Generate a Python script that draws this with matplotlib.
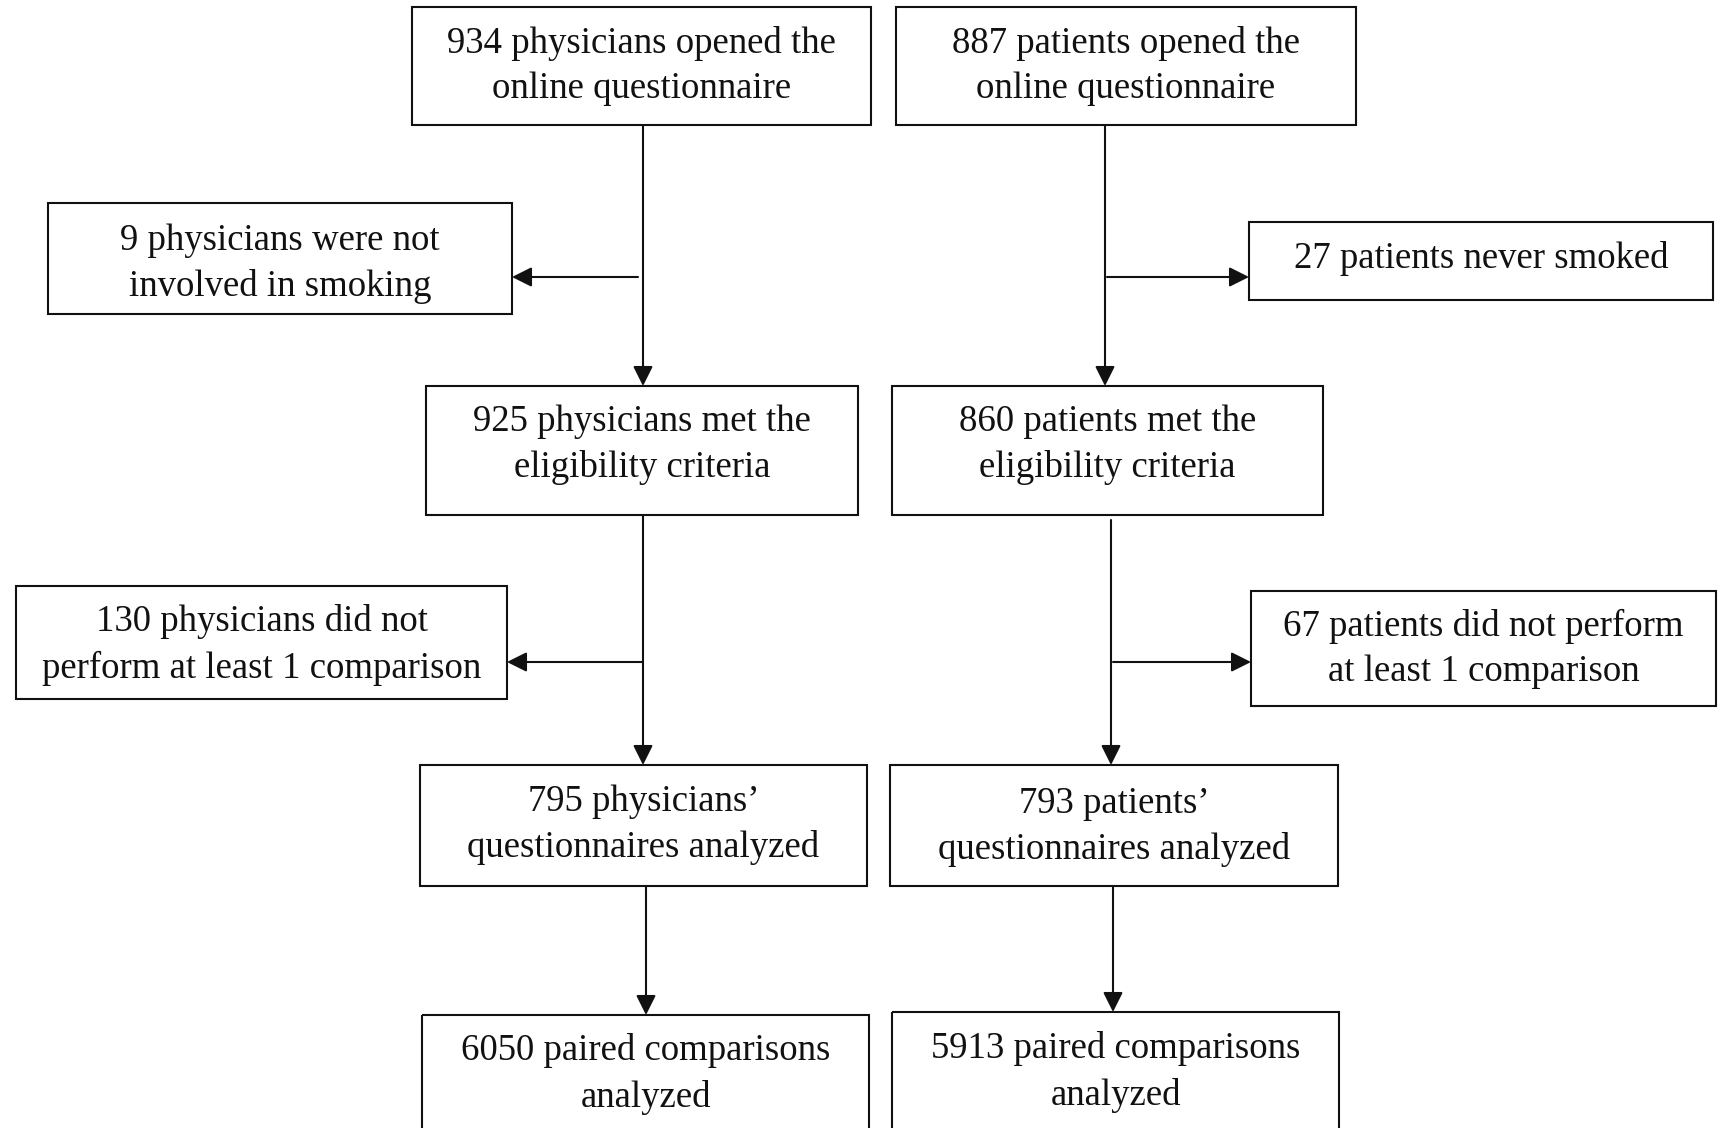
import matplotlib
matplotlib.use("Agg")
import matplotlib.pyplot as plt
from matplotlib.patches import Rectangle, FancyArrowPatch

# ---- data (texts / counts) ----
physician_counts = [934, 9, 925, 130, 795, 6050]
patient_counts = [887, 27, 860, 67, 793, 5913]

physician_texts = [
    f"{physician_counts[0]} physicians opened the\nonline questionnaire",
    f"{physician_counts[1]} physicians were not\ninvolved in smoking",
    f"{physician_counts[2]} physicians met the\neligibility criteria",
    f"{physician_counts[3]} physicians did not\nperform at least 1 comparison",
    f"{physician_counts[4]} physicians\u2019\nquestionnaires analyzed",
    f"{physician_counts[5]} paired comparisons\nanalyzed",
]
patient_texts = [
    f"{patient_counts[0]} patients opened the\nonline questionnaire",
    f"{patient_counts[1]} patients never smoked",
    f"{patient_counts[2]} patients met the\neligibility criteria",
    f"{patient_counts[3]} patients did not perform\nat least 1 comparison",
    f"{patient_counts[4]} patients\u2019\nquestionnaires analyzed",
    f"{patient_counts[5]} paired comparisons\nanalyzed",
]

# ---- layout (pixel coordinates, y downward) ----
W, H = 1726, 1128
# boxes: (x0, y0, x1, y1)
phys_boxes = [
    (412, 7, 871, 125),
    (48, 203, 512, 314),
    (426, 386, 858, 515),
    (16, 586, 507, 699),
    (420, 765, 867, 886),
    (422, 1015, 869, 1160),
]
pat_boxes = [
    (896, 7, 1356, 125),
    (1249, 222, 1713, 300),
    (892, 386, 1323, 515),
    (1251, 591, 1716, 706),
    (890, 765, 1338, 886),
    (892, 1012, 1339, 1160),
]
phys_text_y = [66, 264, 445, 645, 825, 1074]
pat_text_y = [66, 258, 445, 649, 827, 1072]

fig = plt.figure(figsize=(W / 100, H / 100), dpi=100)
ax = fig.add_axes([0, 0, 1, 1])
ax.set_xlim(0, W)
ax.set_ylim(H, 0)
ax.axis("off")

FONT = "Liberation Serif"
LW = 1.5


def box(b, text, ty):
    x0, y0, x1, y1 = b
    ax.add_patch(Rectangle((x0, y0), x1 - x0, y1 - y0, fill=False,
                           edgecolor="#111111", linewidth=LW))
    ax.text((x0 + x1) / 2, ty, text, ha="center", va="center",
            family=FONT, fontsize=26.5, color="#111111", linespacing=1.42)


def arrow(x0, y0, x1, y1):
    ax.add_patch(FancyArrowPatch((x0, y0), (x1, y1),
                                 arrowstyle="-|>,head_length=0.6,head_width=0.3",
                                 mutation_scale=20, color="#111111",
                                 linewidth=LW, shrinkA=0, shrinkB=0))


for b, t, ty in zip(phys_boxes, physician_texts, phys_text_y):
    box(b, t, ty)
for b, t, ty in zip(pat_boxes, patient_texts, pat_text_y):
    box(b, t, ty)

# physicians column connectors
arrow(643, 125, 643, 386)
arrow(638, 277, 512, 277)
arrow(643, 515, 643, 765)
arrow(643, 662, 507, 662)
arrow(646, 886, 646, 1015)

# patients column connectors
arrow(1105, 125, 1105, 386)
arrow(1107, 277, 1249, 277)
arrow(1111, 520, 1111, 765)
arrow(1113, 662, 1251, 662)
arrow(1113, 886, 1113, 1012)

fig.savefig("out.png", dpi=100, facecolor="white")
